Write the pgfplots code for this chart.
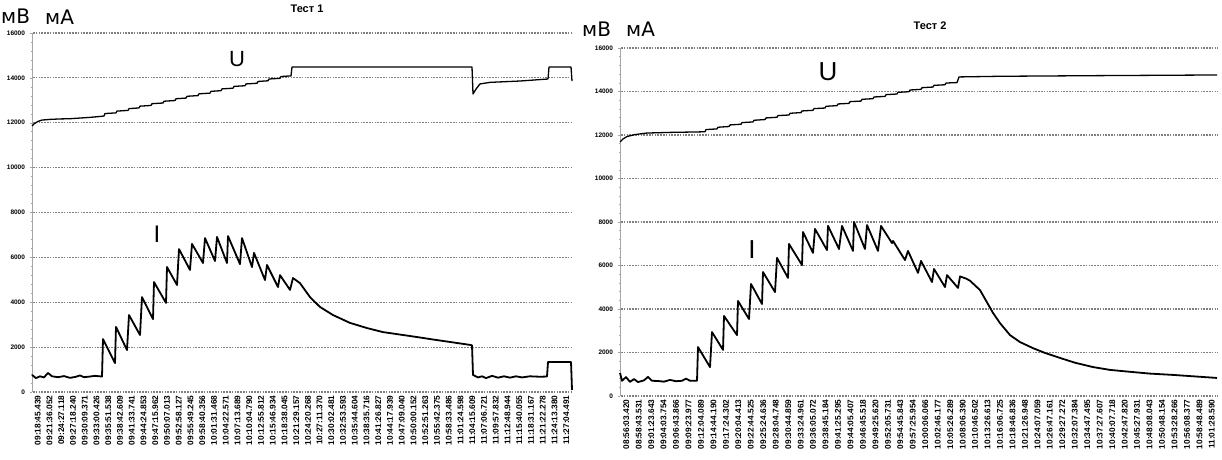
\documentclass[border=0pt]{standalone}
\usepackage{fontspec}
\setmainfont{Liberation Sans}
\newfontfamily\djv{DejaVu Sans}
\usepackage{pgfplots}
\pgfplotsset{compat=1.18}
\tikzset{gridl/.style={black!50, line width=1.1pt, dash pattern=on 1.6pt off 1.2pt}}
\pgfplotsset{
  scanaxis/.style={
    anchor=south west, scale only axis,
    ymin=0, ymax=16000,
    ytick={0,2000,...,16000},
    scaled y ticks=false,
    axis y line*=left, axis x line*=bottom,
    x axis line style={draw=none},
    y axis line style={gray!70, line width=0.6pt},
    tick align=outside,
    major tick length=2.5pt, minor tick length=1.5pt,
    minor y tick num=4,
    ytick style={gray!70, line width=0.5pt},
    xtick style={draw=none},
    /pgf/number format/1000 sep={},
    /pgf/number format/assume math mode=true,
    yticklabel style={font=\fontsize{6.5}{7}\selectfont\bfseries, xshift=-1pt},
    xticklabel style={rotate=90, anchor=east, font=\fontsize{8.3}{9}\selectfont\bfseries, inner sep=1pt},
    clip=false,
  },
  uline/.style={black, line width=1.3pt, line join=round},
  iline/.style={black, line width=1.8pt, line join=round},
}
\begin{document}
\begin{tikzpicture}[x=1pt,y=1pt]
\useasboundingbox (0,0) rectangle (1222,459);
% ---------------- Test 1 ----------------
\begin{axis}[scanaxis, at={(32pt,67pt)}, width=540pt, height=359pt,
  xmin=32, xmax=572,
  xtick={37.87,49.61,...,567},
  xticklabels={09:18:45.439,09:21:36.052,09:24:27.118,09:27:18.240,09:30:09.371,09:33:00.426,09:35:51.538,09:38:42.609,09:41:33.741,09:44:24.853,09:47:15.962,09:50:07.013,09:52:58.127,09:55:49.245,09:58:40.356,10:01:31.468,10:04:22.571,10:07:13.689,10:10:04.790,10:12:55.812,10:15:46.934,10:18:38.045,10:21:29.157,10:24:20.268,10:27:11.370,10:30:02.481,10:32:53.593,10:35:44.604,10:38:35.716,10:41:26.827,10:44:17.939,10:47:09.040,10:50:00.152,10:52:51.263,10:55:42.375,10:58:33.486,11:01:24.598,11:04:15.609,11:07:06.721,11:09:57.832,11:12:48.944,11:15:40.055,11:18:31.167,11:21:22.278,11:24:13.380,11:27:04.491},
]
\pgfplotsinvokeforeach{0,2000,4000,6000,8000,10000,12000,14000,16000}{
  \draw[gridl] (axis cs:33,#1) -- (axis cs:572,#1);
}
\addplot[uline] coordinates {
(32,11856)(34,11950)(38,12060)(42,12120)(50,12150)(60,12170)(70,12180)(80,12210)(90,12240)(100,12280)
(104,12300)(105,12410)(116,12440)(117,12520)(128,12550)(129,12630)(139,12660)(140,12740)
(151,12770)(152,12850)(163,12880)(164,12960)(175,12990)(176,13070)(186,13100)(187,13180)
(198,13210)(199,13290)(210,13320)(211,13400)(221,13430)(222,13510)(233,13540)(234,13620)
(245,13650)(246,13730)(257,13760)(258,13840)(268,13870)(269,13950)(280,13980)(281,14060)
(291,14090)(292,14485)(472,14485)(473,13280)(476,13500)(480,13730)(490,13800)(520,13860)
(548,13950)(549,14485)(571,14485)(572,13860)
};
\addplot[iline] coordinates {
(32,760)(36,620)(40,700)(44,650)(48,850)(52,700)(58,660)(64,710)(70,630)(76,680)(80,740)(84,660)(90,690)(95,720)(102,690)
(103,2360)(115,1290)(116,2900)(127,1870)(129,3430)(140,2540)(142,4230)(153,3250)(154,4900)(166,3970)
(167,5570)(177,4770)(179,6370)(190,5440)(192,6600)(203,5750)(205,6860)(215,5840)(217,6910)(227,5750)
(228,6950)(240,5700)(242,6860)(252,5570)(254,6200)(265,4990)(267,5660)(278,4680)(280,5210)(290,4550)
(293,5080)(300,4850)(310,4230)(320,3790)(333,3430)(350,3080)(367,2850)(383,2670)(400,2560)(417,2450)
(433,2340)(450,2230)(470,2100)(472,2080)(473,760)(478,650)(482,700)(486,620)(492,720)(498,640)(504,700)
(510,640)(516,700)(522,650)(530,700)(540,680)(547,690)(548,1340)(571,1340)(572,90)
};
\end{axis}
% ---------------- Test 2 ----------------
\begin{axis}[scanaxis, at={(620pt,63pt)}, width=598pt, height=348pt,
  xmin=620, xmax=1218,
  xtick={626.23,638.69,...,1212.5},
  xticklabels={08:56:03.420,08:58:43.531,09:01:23.643,09:04:03.754,09:06:43.866,09:09:23.977,09:12:04.089,09:14:44.190,09:17:24.302,09:20:04.413,09:22:44.525,09:25:24.636,09:28:04.748,09:30:44.859,09:33:24.961,09:36:05.072,09:38:45.184,09:41:25.295,09:44:05.407,09:46:45.518,09:49:25.620,09:52:05.731,09:54:45.843,09:57:25.954,10:00:06.066,10:02:46.177,10:05:26.289,10:08:06.390,10:10:46.502,10:13:26.613,10:16:06.725,10:18:46.836,10:21:26.948,10:24:07.059,10:26:47.161,10:29:27.272,10:32:07.384,10:34:47.495,10:37:27.607,10:40:07.718,10:42:47.820,10:45:27.931,10:48:08.043,10:50:48.154,10:53:28.266,10:56:08.377,10:58:48.489,11:01:28.590},
]
\pgfplotsinvokeforeach{0,2000,4000,6000,8000,10000,12000,14000,16000}{
  \draw[gridl] (axis cs:621,#1) -- (axis cs:1218,#1);
}
\addplot[uline] coordinates {
(620,11680)(623,11820)(627,11930)(635,12020)(647,12090)(670,12120)(697,12140)(705,12150)
(706,12250)(717,12280)(718,12357)(729,12390)(730,12464)(741,12495)(742,12571)(753,12600)(754,12678)
(765,12710)(766,12785)(777,12815)(778,12892)(789,12920)(790,12999)(801,13030)(802,13106)
(813,13135)(814,13213)(825,13240)(826,13320)(837,13350)(838,13427)(849,13455)(850,13534)
(861,13560)(862,13641)(873,13670)(874,13748)(885,13775)(886,13855)(897,13885)(898,13962)
(909,13990)(910,14069)(921,14100)(922,14176)(933,14205)(934,14283)(945,14310)(946,14390)
(957,14410)(959,14670)(1000,14700)(1100,14730)(1217,14760)
};
\addplot[iline] coordinates {
(620,1060)(622,700)(626,870)(630,650)(634,780)(638,640)(644,720)(648,880)(652,700)(658,690)(664,660)
(670,740)(676,680)(682,700)(686,800)(690,700)(697,700)
(698,2250)(710,1330)(712,2940)(723,2120)(724,3680)(737,2800)(738,4370)(749,3540)(751,5150)(762,4230)
(763,5700)(775,4780)(777,6350)(788,5430)(789,6990)(802,6020)(803,7540)(813,6580)(815,7680)(827,6710)
(828,7820)(839,6760)(842,7820)(853,6670)(854,8000)(865,6760)(867,7860)(878,6670)(881,7820)(892,7030)
(893,7130)(905,6250)(908,6670)(918,5660)(921,6210)(932,5240)(934,5840)(945,5010)(947,5560)(958,4970)
(960,5500)(966,5400)(970,5300)(980,4870)(993,3820)(1000,3350)(1010,2800)(1020,2480)(1033,2200)
(1045,1980)(1060,1750)(1075,1530)(1093,1330)(1110,1200)(1133,1100)(1150,1030)(1173,970)(1195,900)(1217,830)
};
\end{axis}
% ---------------- texts ----------------
\node[anchor=west, inner sep=0pt, font=\djv\fontsize{20}{22}\selectfont] at (1,443) {мВ};
\node[anchor=west, inner sep=0pt, font=\djv\fontsize{20}{22}\selectfont] at (45,442) {мА};
\node[anchor=west, inner sep=0pt, font=\djv\fontsize{20}{22}\selectfont] at (582,430) {мВ};
\node[anchor=west, inner sep=0pt, font=\djv\fontsize{20}{22}\selectfont] at (626,430) {мА};
\node[font=\fontsize{11}{12}\selectfont\bfseries] at (307,450) {Тест 1};
\node[font=\fontsize{11}{12}\selectfont\bfseries] at (930,433) {Тест 2};
\node[font=\fontsize{22}{24}\selectfont] at (237,400) {U};
\node[font=\fontsize{26}{28}\selectfont] at (828,387) {U};
\node[font=\fontsize{24}{26}\selectfont] at (157,225) {I};
\node[font=\fontsize{26}{28}\selectfont] at (752,209) {I};
\end{tikzpicture}
\end{document}
